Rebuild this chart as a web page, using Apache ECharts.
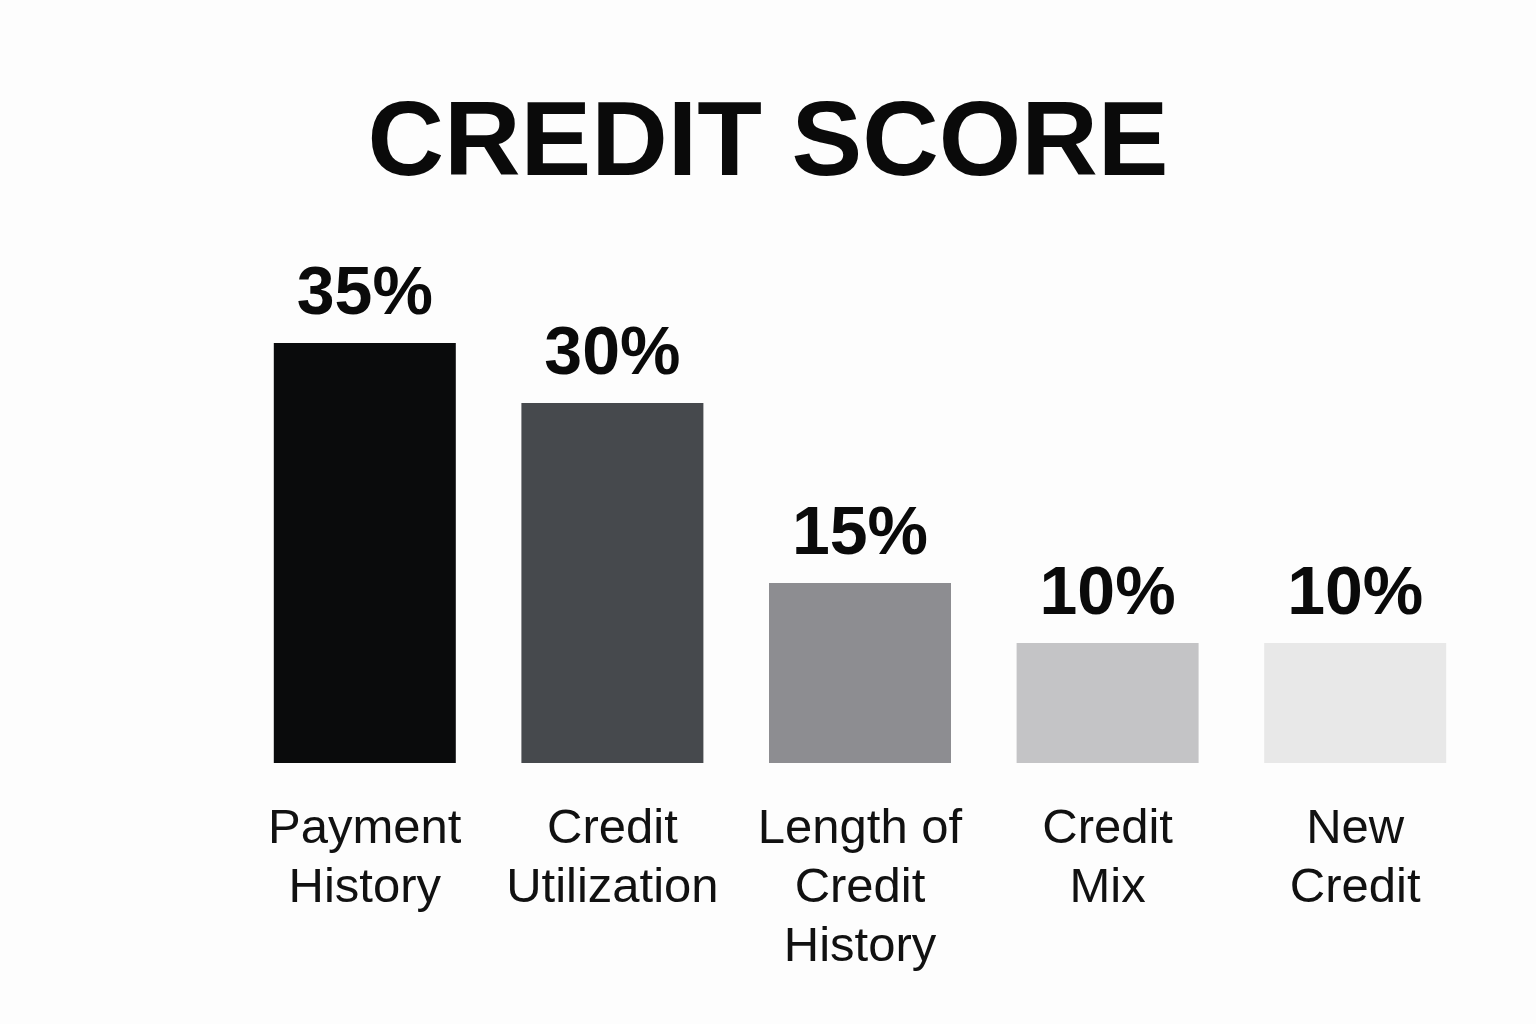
<!DOCTYPE html>
<html>
<head>
<meta charset="utf-8">
<script src="https://cdn.jsdelivr.net/npm/echarts@6/dist/echarts.min.js"></script>
<style>
html,body{margin:0;padding:0;background:#fdfdfd;}
#chart{width:1536px;height:1024px;}
</style>
</head>
<body>
<div id="chart"></div>
<script>
var titleText = 'CREDIT SCORE';
var categories = ['Payment\nHistory', 'Credit\nUtilization', 'Length of\nCredit\nHistory', 'Credit\nMix', 'New\nCredit'];
var values = [35, 30, 15, 10, 10];
var barColors = ['#0a0b0c', '#46494d', '#8d8d91', '#c4c4c6', '#e8e8e8'];

var chart = echarts.init(document.getElementById('chart'));
chart.setOption({
  backgroundColor: '#fdfdfd',
  animation: false,
  title: {
    text: titleText,
    left: 'center',
    top: 88,
    textStyle: {
      fontFamily: 'Liberation Sans',
      fontWeight: 'bold',
      fontSize: 106,
      color: '#0a0a0a'
    }
  },
  grid: { left: 241, right: 57, top: 163, bottom: 261 },
  xAxis: {
    type: 'category',
    data: categories,
    axisLine: { show: false },
    axisTick: { show: false },
    axisLabel: {
      margin: 37,
      fontFamily: 'Liberation Sans',
      fontSize: 49,
      lineHeight: 59,
      color: '#111111',
      interval: 0
    }
  },
  yAxis: {
    type: 'value',
    min: 0,
    max: 50,
    show: false,
    splitLine: { show: false }
  },
  series: [{
    type: 'bar',
    barWidth: 182,
    data: values.map(function (v, i) {
      return { value: v, itemStyle: { color: barColors[i] } };
    }),
    label: {
      show: true,
      position: 'top',
      distance: 14,
      formatter: '{c}%',
      fontFamily: 'Liberation Sans',
      fontWeight: 'bold',
      fontSize: 68,
      lineHeight: 68,
      color: '#0a0a0a'
    }
  }]
});
</script>
</body>
</html>
